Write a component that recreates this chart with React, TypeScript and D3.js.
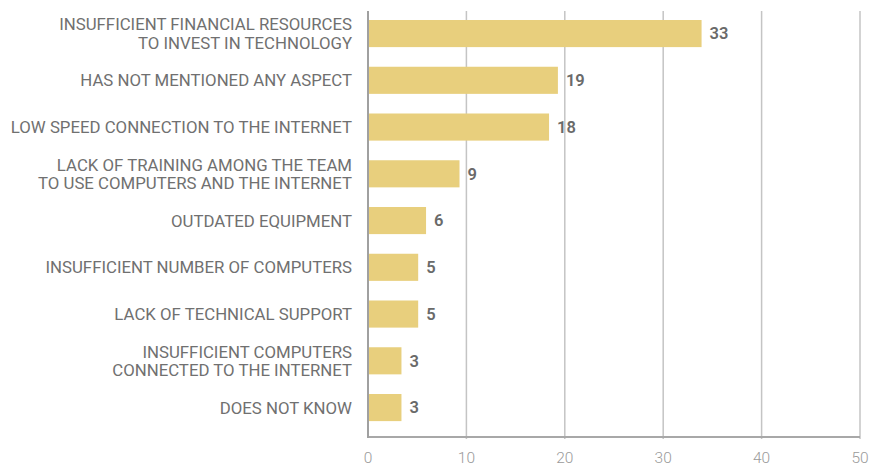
import React from "react";
import * as d3 from "d3";

const categories: string[][] = [
  ["INSUFFICIENT FINANCIAL RESOURCES", "TO INVEST IN TECHNOLOGY"],
  ["HAS NOT MENTIONED ANY ASPECT"],
  ["LOW SPEED CONNECTION TO THE INTERNET"],
  ["LACK OF TRAINING AMONG THE TEAM", "TO USE COMPUTERS AND THE INTERNET"],
  ["OUTDATED EQUIPMENT"],
  ["INSUFFICIENT NUMBER OF COMPUTERS"],
  ["LACK OF TECHNICAL SUPPORT"],
  ["INSUFFICIENT COMPUTERS", "CONNECTED TO THE INTERNET"],
  ["DOES NOT KNOW"],
];
const values: number[] = [33.9, 19.3, 18.4, 9.3, 5.9, 5.1, 5.1, 3.4, 3.4];
const valueLabels: string[] = ["33", "19", "18", "9", "6", "5", "5", "3", "3"];
const xTicks: number[] = [0, 10, 20, 30, 40, 50];

const W = 869;
const H = 466;
const FONT = "Roboto, 'Liberation Sans', sans-serif";

export default function App() {
  const x = d3.scaleLinear().domain([0, 50]).range([368, 860]);
  const step = 46.75;
  const y = d3
    .scaleBand<number>()
    .domain(d3.range(categories.length))
    .range([20 - 0.21 * step, 20 - 0.21 * step + 9 * step])
    .paddingInner(0.42)
    .paddingOuter(0.21);
  const plotTop = 11;
  const plotBottom = 437;

  return (
    <svg
      width={W}
      height={H}
      style={{ position: "absolute", left: 0, top: 0, background: "#fff" }}
    >
      {xTicks.slice(1).map((t) => (
        <line
          key={"g" + t}
          x1={x(t)}
          x2={x(t)}
          y1={plotTop}
          y2={plotBottom + 2}
          stroke="#c4c4c4"
          strokeWidth={1.5}
        />
      ))}
      {values.map((v, i) => (
        <rect
          key={"b" + i}
          x={x(0)}
          y={y(i)!}
          width={x(v) - x(0)}
          height={y.bandwidth()}
          fill="#e8cf7d"
        />
      ))}
      <line x1={x(0)} x2={x(50)} y1={plotBottom} y2={plotBottom} stroke="#a8a8a8" strokeWidth={2} />
      <line x1={x(0)} x2={x(0)} y1={plotTop} y2={plotBottom + 1} stroke="#a0a0a0" strokeWidth={2} />
      {values.map((v, i) => (
        <text
          key={"v" + i}
          x={x(v) + 8}
          y={y(i)! + y.bandwidth() / 2}
          dy="0.36em"
          fontFamily={FONT}
          fontSize={16.5}
          fontWeight={600}
          fill="#6a6a6a"
        >
          {valueLabels[i]}
        </text>
      ))}
      {categories.map((lines, i) => {
        const cy = y(i)! + y.bandwidth() / 2;
        const lh = 18.5;
        const start = cy - ((lines.length - 1) * lh) / 2;
        return (
          <text
            key={"c" + i}
            textAnchor="end"
            fontFamily={FONT}
            fontSize={16.8}
            fill="#707070"
          >
            {lines.map((l, j) => (
              <tspan key={j} x={352} y={start + j * lh} dy="0.36em">
                {l}
              </tspan>
            ))}
          </text>
        );
      })}
      {xTicks.map((t) => (
        <text
          key={"t" + t}
          x={x(t)}
          y={458}
          dy="0.35em"
          textAnchor="middle"
          fontFamily={FONT}
          fontSize={15.5}
          fontWeight={300}
          fill="#9a9a9a"
        >
          {t}
        </text>
      ))}
    </svg>
  );
}
